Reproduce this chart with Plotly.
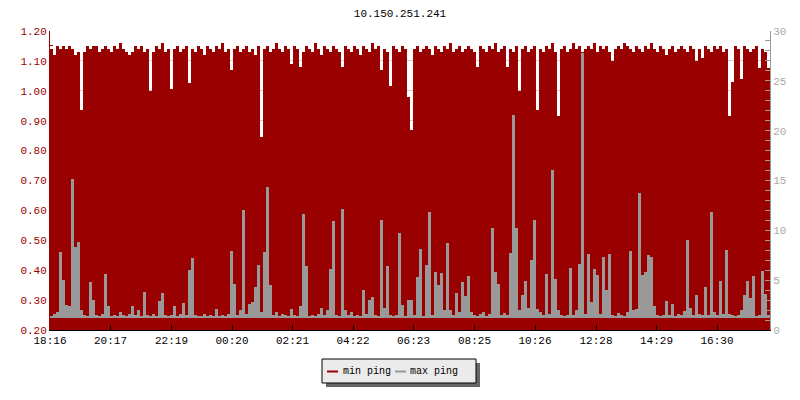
import plotly.graph_objects as go

title = "10.150.251.241"
tick_labels = ["18:16", "20:17", "22:19", "00:20", "02:21", "04:22",
               "06:23", "08:25", "10:26", "12:28", "14:29", "16:30"]
series_names = ["min ping", "max ping"]
step_minutes = 6

min_ping = [
    1.14, 1.12, 1.15, 1.14, 1.15, 1.14, 1.15, 1.14, 1.12, 1.13, 0.936, 1.13, 1.15, 1.14, 1.15, 1.15, 1.13, 1.14, 1.15, 1.14,
    1.13, 1.15, 1.14, 1.16, 1.14, 1.13, 1.12, 1.13, 1.15, 1.14, 1.15, 1.13, 1.14, 1.00, 1.13, 1.15, 1.14, 1.16, 1.13, 1.14,
    1.006, 1.14, 1.15, 1.13, 1.14, 1.15, 1.026, 1.14, 1.13, 1.15, 1.14, 1.12, 1.15, 1.14, 1.13, 1.15, 1.14, 1.16, 1.13, 1.14,
    1.07, 1.14, 1.15, 1.13, 1.14, 1.15, 1.13, 1.14, 1.12, 1.15, 0.845, 1.14, 1.15, 1.13, 1.14, 1.16, 1.14, 1.13, 1.15, 1.14,
    1.09, 1.15, 1.14, 1.08, 1.13, 1.15, 1.14, 1.13, 1.16, 1.14, 1.12, 1.15, 1.14, 1.13, 1.15, 1.14, 1.13, 1.08, 1.15, 1.14,
    1.13, 1.15, 1.14, 1.12, 1.15, 1.14, 1.13, 1.16, 1.14, 1.15, 1.07, 1.14, 1.13, 1.016, 1.15, 1.14, 1.13, 1.15, 1.14, 0.98,
    0.87, 1.14, 1.15, 1.13, 1.14, 1.15, 1.14, 1.12, 1.15, 1.14, 1.13, 1.15, 1.14, 1.16, 1.13, 1.14, 1.15, 1.13, 1.14, 1.15,
    1.14, 1.13, 1.08, 1.15, 1.14, 1.13, 1.15, 1.14, 1.16, 1.13, 1.14, 1.15, 1.08, 1.14, 1.13, 1.15, 1.00, 1.14, 1.15, 1.13,
    1.14, 1.15, 0.936, 1.14, 1.13, 1.15, 1.14, 1.16, 1.13, 0.916, 1.14, 1.15, 1.13, 1.14, 1.16, 1.14, 1.15, 1.13, 1.14, 1.15,
    1.14, 1.16, 1.13, 1.15, 1.14, 1.15, 1.13, 1.10, 1.14, 1.15, 1.14, 1.16, 1.15, 1.14, 1.13, 1.15, 1.14, 1.13, 1.15, 1.14,
    1.16, 1.14, 1.13, 1.15, 1.14, 1.12, 1.14, 1.15, 1.13, 1.14, 1.15, 1.14, 1.13, 1.15, 1.14, 1.10, 1.14, 1.11, 1.15, 1.14,
    1.13, 1.15, 1.14, 1.15, 1.13, 1.14, 0.916, 1.03, 1.15, 1.14, 1.04, 1.15, 1.14, 1.13, 1.14, 1.15, 1.076, 1.14, 1.13, 1.076,
]

max_ping = [
    1.4, 1.6, 1.8, 7.8, 5.0, 2.5, 2.4, 15.2, 8.3, 8.8, 2.0, 1.5, 1.4, 4.8, 3.0, 1.5, 1.4, 1.6, 5.6, 2.4,
    1.4, 1.5, 1.4, 1.8, 1.5, 1.4, 1.6, 2.4, 1.5, 2.0, 1.4, 3.8, 1.5, 1.4, 1.6, 1.4, 2.9, 3.7, 1.5, 1.4,
    1.5, 2.4, 1.4, 1.6, 2.7, 1.5, 6.0, 7.2, 1.5, 1.4, 1.4, 1.6, 1.4, 1.5, 1.4, 2.1, 1.4, 1.5, 1.4, 1.6,
    7.9, 4.6, 1.5, 2.0, 12.0, 1.6, 2.6, 2.8, 4.3, 6.5, 1.8, 7.8, 14.3, 4.5, 1.5, 1.8, 1.4, 1.6, 1.5, 1.4,
    2.1, 1.5, 1.4, 2.4, 11.6, 6.4, 1.4, 1.5, 1.4, 1.6, 2.2, 1.5, 2.0, 6.1, 10.9, 1.5, 1.4, 12.1, 2.0, 1.5,
    1.8, 1.4, 1.5, 1.4, 4.0, 1.6, 3.0, 3.3, 1.5, 1.4, 11.0, 2.2, 6.4, 1.5, 1.4, 1.5, 9.7, 2.5, 1.4, 3.0,
    3.0, 1.5, 5.3, 8.1, 1.4, 6.5, 11.8, 1.5, 5.8, 4.5, 5.7, 2.0, 8.7, 2.0, 1.5, 3.7, 1.8, 4.8, 3.4, 5.4,
    1.8, 1.5, 1.4, 1.6, 1.8, 1.4, 1.6, 10.2, 5.8, 4.6, 1.5, 1.7, 1.5, 7.7, 21.6, 10.2, 2.0, 3.5, 4.9, 2.2,
    7.0, 11.0, 2.1, 1.8, 1.5, 5.6, 1.6, 16.1, 5.1, 2.0, 1.5, 1.4, 1.5, 6.2, 1.5, 2.0, 6.6, 27.8, 1.6, 7.6,
    2.8, 6.1, 5.5, 1.6, 7.3, 4.0, 7.6, 1.5, 1.4, 1.7, 1.5, 1.4, 1.8, 7.9, 2.0, 2.1, 13.7, 5.5, 5.8, 7.5,
    7.3, 2.4, 1.5, 1.4, 1.5, 2.9, 1.5, 2.6, 1.4, 1.6, 1.5, 1.9, 9.0, 2.2, 1.5, 3.5, 1.6, 1.5, 4.3, 1.5,
    11.8, 1.8, 1.5, 4.9, 1.6, 8.0, 1.6, 1.5, 1.4, 1.5, 2.0, 3.5, 4.9, 3.2, 5.4, 1.4, 1.5, 5.9, 3.6, 1.5,
]

RED = "#990000"
GRAY = "#999999"
FONT = "Liberation Mono"
GRAY_BASE = 1.25  # floor of the grey max-ping area on the right axis

n = len(min_ping)
x_mid = [step_minutes * i + step_minutes / 2 for i in range(n)]
total = step_minutes * n

def to_min(label, start):
    h, m = map(int, label.split(":"))
    v = h * 60 + m - start
    return v + 1440 if v < 0 else v

h0, m0 = map(int, tick_labels[0].split(":"))
start = h0 * 60 + m0
tick_vals = [to_min(t, start) for t in tick_labels]

fig = go.Figure()
fig.add_trace(go.Bar(x=x_mid, y=min_ping, width=step_minutes,
                     marker=dict(color=RED, line=dict(width=0)),
                     name=series_names[0], showlegend=False, yaxis="y"))
fig.add_trace(go.Bar(x=x_mid, y=[v - GRAY_BASE for v in max_ping], base=GRAY_BASE, width=step_minutes,
                     marker=dict(color=GRAY, line=dict(width=0)),
                     name=series_names[1], showlegend=False, yaxis="y2"))

# ---- manual legend (pixel layout converted to paper coordinates) ----
L, T, W, H = 50, 31, 720, 299
def px(x):
    return (x - L) / W
def py(y):
    return (T + H - y) / H

shapes = [
    dict(type="rect", xref="paper", yref="paper", x0=px(326), x1=px(480), y0=py(387), y1=py(363),
         fillcolor="#666666", line=dict(width=0), layer="above"),
    dict(type="rect", xref="paper", yref="paper", x0=px(322), x1=px(476), y0=py(383), y1=py(359),
         fillcolor="#ebebeb", line=dict(color="black", width=1), layer="above"),
    dict(type="line", xref="paper", yref="paper", x0=px(327), x1=px(338), y0=py(371.5), y1=py(371.5),
         line=dict(color=RED, width=2), layer="above"),
    dict(type="line", xref="paper", yref="paper", x0=px(395), x1=px(406), y0=py(371.5), y1=py(371.5),
         line=dict(color=GRAY, width=2), layer="above"),
]
annotations = [
    dict(xref="paper", yref="paper", x=px(341), y=py(371), xanchor="left", yanchor="middle",
         text=series_names[0], showarrow=False, font=dict(family=FONT, size=10, color="black")),
    dict(xref="paper", yref="paper", x=px(408), y=py(371), xanchor="left", yanchor="middle",
         text=series_names[1], showarrow=False, font=dict(family=FONT, size=10, color="black")),
]

fig.update_layout(
    width=800, height=400,
    margin=dict(l=L, r=800 - L - W, t=T, b=400 - T - H),
    paper_bgcolor="white", plot_bgcolor="white",
    bargap=0, barmode="overlay", hovermode=False, showlegend=False,
    shapes=shapes, annotations=annotations,
    title=dict(text=title, x=0.5, xanchor="center", y=1 - 13 / 400, yref="container", yanchor="middle",
               font=dict(family=FONT, size=11, color="black")),
    font=dict(family=FONT, size=10, color="black"),
    xaxis=dict(range=[0, total], tickvals=tick_vals, ticktext=tick_labels, showgrid=False,
               showline=True, linecolor="black", linewidth=1, ticks="inside", ticklen=5, tickcolor="black",
               tickfont=dict(family=FONT, size=11, color="black"), zeroline=False),
    yaxis=dict(range=[0.2, 1.2], dtick=0.1, tickformat=".2f", showgrid=True, gridcolor="#cccccc",
               showline=True, linecolor=RED, linewidth=1, ticks="inside", ticklen=5, tickcolor=RED,
               tickfont=dict(family=FONT, size=11, color=RED), zeroline=False,
               minor=dict(dtick=0.05, ticks="inside", ticklen=3, tickcolor=RED)),
    yaxis2=dict(range=[0, 30], dtick=5, overlaying="y", side="right", showgrid=False,
                showline=True, linecolor=GRAY, linewidth=1, ticks="inside", ticklen=5, tickcolor=GRAY,
                tickfont=dict(family=FONT, size=11, color="#aaaaaa"), zeroline=False,
                minor=dict(dtick=1, ticks="inside", ticklen=5, tickcolor=GRAY)),
)

fig.write_html("out.html", config={"displayModeBar": False, "staticPlot": True},
               post_script="document.body.style.margin='0';")
